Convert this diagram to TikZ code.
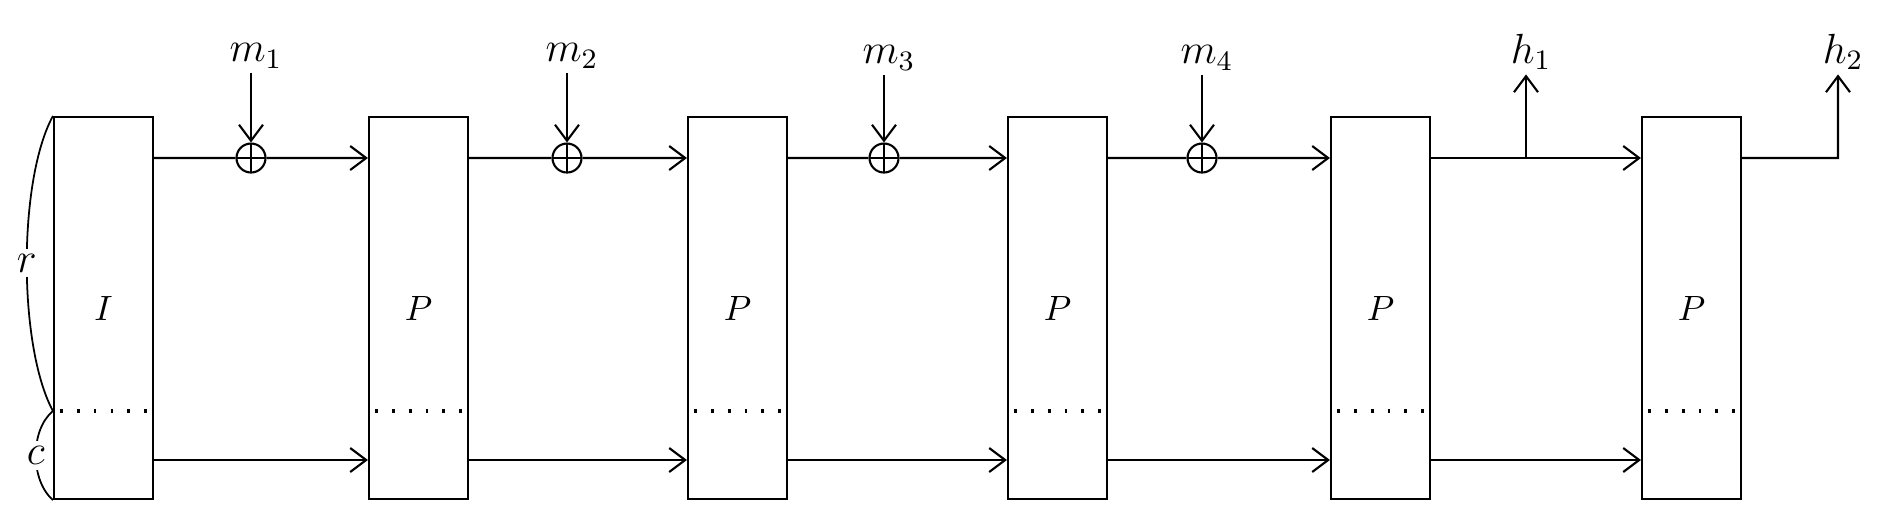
\documentclass[tikz,border=0pt]{standalone}
\usepackage{amsmath,amssymb}
\usepackage{tikz}
\usetikzlibrary{calc,positioning,arrows.meta}

\begin{document}
\begin{tikzpicture}[
    line width=0.6pt,
    state/.style={rectangle, draw=black, minimum width=0.99cm, minimum height=3.82cm, inner sep=0pt, font=\normalsize},
    xor/.style={circle, draw=black, minimum size=0.29cm, inner sep=0pt,
        path picture={\draw (path picture bounding box.north) -- (path picture bounding box.south)
            (path picture bounding box.west) -- (path picture bounding box.east);}},
    io/.style={inner sep=1pt, font=\large},
    flow/.style={-{Straight Barb[length=1.6mm,width=2.4mm]}},
    split/.style={dash pattern=on 0.8pt off 4pt, line width=0.9pt},
    brace/.style={line width=0.5pt}
]
    \useasboundingbox (0,0) rectangle (18.91,-5.21);

    % --- STATE BOXES ---
    \node[state] (init) at (1.035, -3.08) {$I$};
    \node[state] (perm1) at (4.185, -3.08) {$P$};
    \node[state] (perm2) at (7.375, -3.08) {$P$};
    \node[state] (perm3) at (10.575, -3.08) {$P$};
    \node[state] (perm4) at (13.805, -3.08) {$P$};
    \node[state] (perm5) at (16.915, -3.08) {$P$};

    % rate / capacity separation
    \foreach \b in {init,perm1,perm2,perm3,perm4,perm5}
        \draw[split] ([shift={(0.07,-1.03)}]\b.west) -- ([shift={(-0.05,-1.03)}]\b.east);

    % --- MESSAGE BLOCKS ---
    \node[xor] (xor1) at (2.51, -1.58) {};
    \node[xor] (xor2) at (5.67, -1.58) {};
    \node[xor] (xor3) at (8.84, -1.58) {};
    \node[xor] (xor4) at (12.02, -1.58) {};

    \node[io] (m1) at (2.56, -0.56) {$m_1$};
    \node[io] (m2) at (5.72, -0.56) {$m_2$};
    \node[io] (m3) at (8.89, -0.58) {$m_3$};
    \node[io] (m4) at (12.07, -0.58) {$m_4$};

    \foreach \i in {1,...,4}
        \draw[flow] (m\i.south -| xor\i.north) -- (xor\i.north);

    % --- OUTPUTS ---
    \node[io] (h1) at (15.31, -0.52) {$h_1$};
    \node[io] (h2) at (18.43, -0.52) {$h_2$};
    \coordinate (h1split) at (15.26, -1.58);
    \coordinate (h2turn) at (18.38, -1.58);

    % ================= DRAWING CONNECTIONS =================

    % rate part
    \draw[flow] ([yshift=1.5cm]init.east) -- (xor1) -- ([yshift=1.5cm]perm1.west);
    \draw[flow] ([yshift=1.5cm]perm1.east) -- (xor2) -- ([yshift=1.5cm]perm2.west);
    \draw[flow] ([yshift=1.5cm]perm2.east) -- (xor3) -- ([yshift=1.5cm]perm3.west);
    \draw[flow] ([yshift=1.5cm]perm3.east) -- (xor4) -- ([yshift=1.5cm]perm4.west);
    \draw[flow] ([yshift=1.5cm]perm4.east) -- ([yshift=1.5cm]perm5.west);
    \draw[flow] (h1split) -- (h1split |- h1.south);
    \draw[flow] ([yshift=1.5cm]perm5.east) -- (h2turn) -- (h2turn |- h2.south);

    % capacity part
    \foreach \a/\b in {init/perm1,perm1/perm2,perm2/perm3,perm3/perm4,perm4/perm5}
        \draw[flow] ([yshift=-1.52cm]\a.east) -- ([yshift=-1.52cm]\b.west);

    % r and c widths
    \coordinate (rcsplit) at ([yshift=-1.03cm]init.west);
    \draw[brace] (init.north west) .. controls (0.18, -1.80) and (0.18, -3.46) ..
        node[fill=white, inner sep=1.5pt, font=\large] (rlabel) {$r$} (rcsplit);
    \draw[brace] (rcsplit) .. controls (0.30, -4.30) and (0.30, -4.80) ..
        node[fill=white, inner sep=1.5pt, font=\large] (clabel) {$c$} (init.south west);

\end{tikzpicture}
\end{document}
